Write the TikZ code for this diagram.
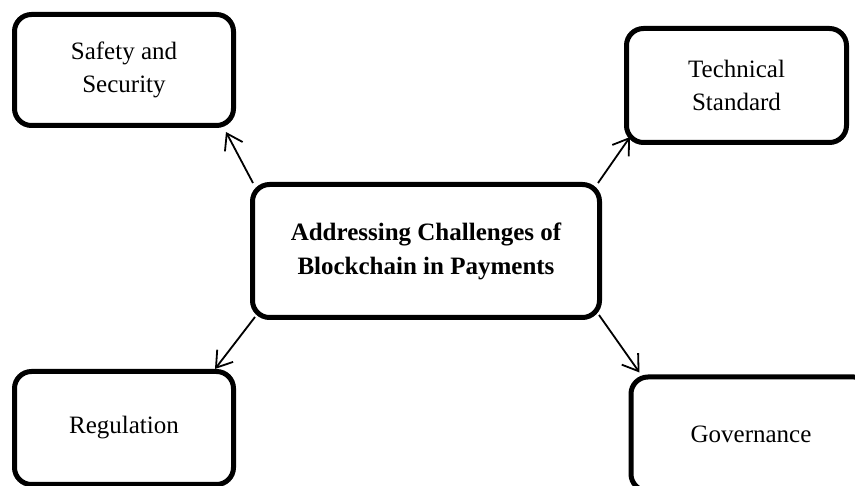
\documentclass[tikz,border=0pt]{standalone}
\usepackage{fontspec}
\setmainfont{Liberation Serif}
\usetikzlibrary{arrows.meta,calc}
\tikzset{
  box/.style={draw=black, line width=5pt, rounded corners=17pt, fill=white,
    align=center, font=\fontsize{25}{33}\selectfont, inner sep=0pt},
  hub/.style={box, font=\fontsize{25}{34}\selectfont\bfseries},
  arr/.style={draw=black, line width=1.8pt, -{Straight Barb[length=15pt,width=20pt,line width=1.8pt]}}
}
\begin{document}
\begin{tikzpicture}[x=1pt,y=-1pt]
\path[use as bounding box, clip] (0,0) rectangle (855,486);
\node[box, minimum width=219pt, minimum height=111pt] (s) at (124,70) {Safety and\\Security};
\node[box, minimum width=220pt, minimum height=114pt] (t) at (736.5,85.5) {Technical\\Standard};
\node[hub, minimum width=347pt, minimum height=133pt] (c) at (426,251) {Addressing Challenges of\\Blockchain in Payments};
\node[box, minimum width=219pt, minimum height=113pt] (r) at (124,428) {Regulation};
\node[box, minimum width=240pt, minimum height=114pt] (g) at (751,434) {Governance};
\draw[arr] ($(c.north west)+(3,1)$) -- ($(s.south east)+(-10,4)$);
\draw[arr] ($(c.north east)+(-4,1)$) -- ($(t.south west)+(6,-8)$);
\draw[arr] ($(c.south west)+(5,-3)$) -- ($(r.north east)+(-21,0)$);
\draw[arr] ($(c.south east)+(-3,-5)$) -- ($(g.north west)+(11,-2)$);
\end{tikzpicture}
\end{document}
